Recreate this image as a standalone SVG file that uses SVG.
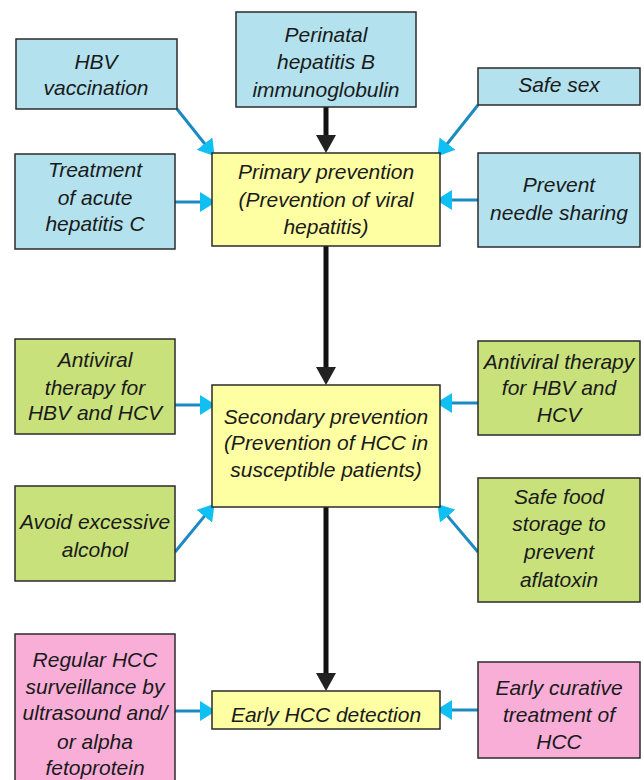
<svg xmlns="http://www.w3.org/2000/svg" width="644" height="780" viewBox="0 0 644 780">
<defs>
<style>
.box{stroke:#2b2b2b;stroke-width:1.5}
.blue{fill:#b3e2ee}
.green{fill:#c8e17b}
.pink{fill:#f9aed8}
.yellow{fill:#fefea2}
text{font-family:"Liberation Sans",Arial,sans-serif;font-style:italic;font-size:21px;fill:#1a1a1a;text-anchor:middle}
.blk{stroke:#111;stroke-width:5;fill:none}
.cy{stroke:#1b8ac0;stroke-width:3;fill:none}
</style>
<marker id="ab" viewBox="0 0 18 20" refX="8" refY="10" markerWidth="18" markerHeight="20" markerUnits="userSpaceOnUse" orient="auto">
<path d="M0,0 L18,10 L0,20 z" fill="#222"/>
</marker>
<marker id="ac" viewBox="0 0 16 20" refX="6" refY="10" markerWidth="16" markerHeight="20" markerUnits="userSpaceOnUse" orient="auto">
<path d="M0,0 L16,10 L0,20 z" fill="#10c0f2"/>
</marker>
</defs>
<rect width="644" height="780" fill="#ffffff"/>

<g id="connectors">
<line class="blk" x1="326" y1="107" x2="326" y2="143" marker-end="url(#ab)"/>
<line class="blk" x1="326" y1="246" x2="326" y2="375" marker-end="url(#ab)"/>
<line class="blk" x1="326" y1="507" x2="326" y2="681" marker-end="url(#ab)"/>
<line class="cy" x1="177" y1="109" x2="208.3" y2="148.3" marker-end="url(#ac)"/>
<line class="cy" x1="478" y1="105" x2="443.7" y2="148.3" marker-end="url(#ac)"/>
<line class="cy" x1="175" y1="202" x2="206" y2="202" marker-end="url(#ac)"/>
<line class="cy" x1="478" y1="200" x2="446" y2="200" marker-end="url(#ac)"/>
<line class="cy" x1="175" y1="405" x2="206" y2="405" marker-end="url(#ac)"/>
<line class="cy" x1="478" y1="403" x2="446" y2="403" marker-end="url(#ac)"/>
<line class="cy" x1="175" y1="552" x2="208.2" y2="511.6" marker-end="url(#ac)"/>
<line class="cy" x1="478" y1="552" x2="443.8" y2="511.6" marker-end="url(#ac)"/>
<line class="cy" x1="175" y1="711" x2="206" y2="711" marker-end="url(#ac)"/>
<line class="cy" x1="478" y1="710" x2="446" y2="710" marker-end="url(#ac)"/>
</g>

<g id="hbv-vaccination">
<rect class="box blue" x="16" y="39" width="161" height="70"/>
<text x="96" y="69">HBV</text>
<text x="96" y="95">vaccination</text>
</g>
<g id="perinatal">
<rect class="box blue" x="236" y="12" width="180" height="95"/>
<text x="326" y="42">Perinatal</text>
<text x="326" y="69">hepatitis B</text>
<text x="326" y="97">immunoglobulin</text>
</g>
<g id="safe-sex">
<rect class="box blue" x="478" y="68" width="162" height="37"/>
<text x="559" y="92">Safe sex</text>
</g>
<g id="treatment-acute-hcv">
<rect class="box blue" x="15" y="154" width="160" height="95"/>
<text x="95" y="177">Treatment</text>
<text x="95" y="205">of acute</text>
<text x="95" y="231">hepatitis C</text>
</g>
<g id="primary">
<rect class="box yellow" x="212" y="153" width="228" height="93"/>
<text x="326" y="179">Primary prevention</text>
<text x="326" y="207">(Prevention of viral</text>
<text x="326" y="234">hepatitis)</text>
</g>
<g id="needle-sharing">
<rect class="box blue" x="478" y="153" width="162" height="94"/>
<text x="559" y="192">Prevent</text>
<text x="559" y="220">needle sharing</text>
</g>

<g id="antiviral-left">
<rect class="box green" x="15" y="339" width="160" height="95"/>
<text x="95" y="367">Antiviral</text>
<text x="95" y="395">therapy for</text>
<text x="95" y="420">HBV and HCV</text>
</g>
<g id="secondary">
<rect class="box yellow" x="212" y="385" width="228" height="122"/>
<text x="326" y="424">Secondary prevention</text>
<text x="326" y="450">(Prevention of HCC in</text>
<text x="326" y="477">susceptible patients)</text>
</g>
<g id="antiviral-right">
<rect class="box green" x="478" y="341" width="162" height="94"/>
<text x="559" y="369">Antiviral therapy</text>
<text x="559" y="395">for HBV and</text>
<text x="559" y="422">HCV</text>
</g>
<g id="avoid-alcohol">
<rect class="box green" x="15" y="486" width="160" height="95"/>
<text x="95" y="529">Avoid excessive</text>
<text x="95" y="557">alcohol</text>
</g>
<g id="safe-food">
<rect class="box green" x="478" y="478" width="162" height="124"/>
<text x="559" y="504">Safe food</text>
<text x="559" y="531">storage to</text>
<text x="559" y="559">prevent</text>
<text x="559" y="587">aflatoxin</text>
</g>

<g id="hcc-surveillance">
<rect class="box pink" x="15" y="634" width="160" height="160"/>
<text x="95" y="667">Regular HCC</text>
<text x="95" y="694">surveillance by</text>
<text x="95" y="720">ultrasound and/</text>
<text x="95" y="749">or alpha</text>
<text x="95" y="775">fetoprotein</text>
</g>
<g id="early-detection">
<rect class="box yellow" x="212" y="691" width="228" height="38"/>
<text x="326" y="722">Early HCC detection</text>
</g>
<g id="early-treatment">
<rect class="box pink" x="478" y="662" width="162" height="96"/>
<text x="559" y="695">Early curative</text>
<text x="559" y="722">treatment of</text>
<text x="559" y="749">HCC</text>
</g>
</svg>
